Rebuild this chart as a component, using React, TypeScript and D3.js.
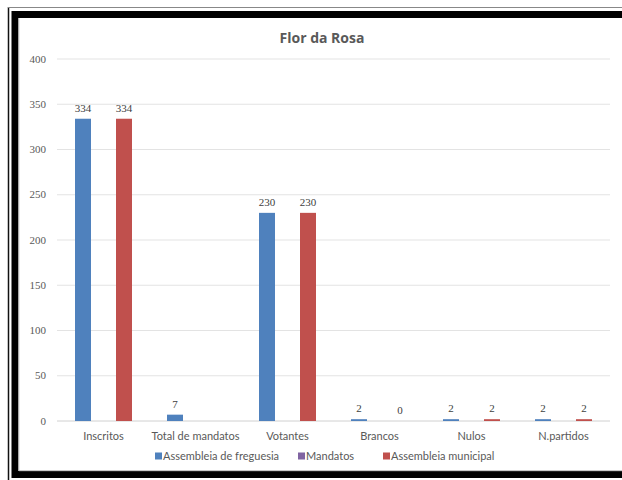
import React, { useEffect } from "react";
import * as d3 from "d3";

const categories = ["Inscritos", "Total de mandatos", "Votantes", "Brancos", "Nulos", "N.partidos"];
const seriesNames = ["Assembleia de freguesia", "Mandatos", "Assembleia municipal"];
const freguesia: (number | null)[] = [334, 7, 230, 2, 2, 2];
const mandatos: (number | null)[] = [null, null, null, null, null, null];
const municipal: (number | null)[] = [334, null, 230, 0, 2, 2];
const yTicks = [0, 50, 100, 150, 200, 250, 300, 350, 400];
const colors = ["#4F81BD", "#8064A2", "#C0504D"];

const W = 622;
const H = 480;

export default function App() {
  useEffect(() => {
    document.body.style.margin = "0";
  }, []);

  const values = [freguesia, mandatos, municipal];

  const x = d3.scaleBand<string>().domain(categories).range([57.5, 609.5]).padding(0);
  const inner = d3
    .scaleBand<string>()
    .domain(seriesNames)
    .range([0, x.bandwidth()])
    .paddingInner(0.22)
    .paddingOuter(0.854);
  const y = d3.scaleLinear().domain([0, 400]).range([421, 59]);

  const numFont = "'Liberation Serif', serif";
  const sansFont = "Lato, 'Open Sans', sans-serif";

  // legend layout
  const legendX = [155, 298, 383];

  return (
    <svg width={W} height={H} style={{ display: "block", background: "#fff" }}>
      {/* frame */}
      <line x1={8.5} x2={8.5} y1={7} y2={H} stroke="#111" strokeWidth={1.5} />
      <line x1={8} x2={W} y1={7.5} y2={7.5} stroke="#888" strokeWidth={1.2} />
      <rect x={15} y={14.5} width={W} height={460} fill="#fff" stroke="#000" strokeWidth={7} />
      <line x1={18.8} x2={18.8} y1={18} y2={471} stroke="#bbb" strokeWidth={1} />
      <line x1={19} x2={W} y1={470.7} y2={470.7} stroke="#bbb" strokeWidth={1} />

      {/* title */}
      <text x={322} y={43} textAnchor="middle" fontFamily="'Open Sans', sans-serif" fontWeight="bold" fontSize={14} fill="#595959">
        Flor da Rosa
      </text>

      {/* grid + y labels */}
      {yTicks.map((t) => (
        <g key={t}>
          <line x1={57} x2={610} y1={y(t)} y2={y(t)} stroke={t === 0 ? "#d0d0d0" : "#e3e3e3"} strokeWidth={1} />
          <text x={46} y={y(t) + 3.5} textAnchor="end" fontFamily={numFont} fontSize={11} fill="#595959">
            {t}
          </text>
        </g>
      ))}

      {/* bars */}
      {categories.map((c, i) => (
        <g key={c} transform={`translate(${x(c)},0)`}>
          {seriesNames.map((s, j) => {
            const v = values[j][i];
            if (v === null) return null;
            const bx = inner(s) || 0;
            return (
              <g key={s}>
                <rect x={bx} y={y(v)} width={inner.bandwidth()} height={y(0) - y(v)} fill={colors[j]} />
                <text
                  x={bx + inner.bandwidth() / 2}
                  y={y(v) - 7}
                  textAnchor="middle"
                  fontFamily={numFont}
                  fontSize={11}
                  fill="#404040"
                >
                  {v}
                </text>
              </g>
            );
          })}
          <text x={x.bandwidth() / 2} y={440} textAnchor="middle" fontFamily={sansFont} fontSize={11} fill="#595959">
            {c}
          </text>
        </g>
      ))}

      {/* legend */}
      {seriesNames.map((s, j) => (
        <g key={s}>
          <rect x={legendX[j]} y={452.5} width={7} height={7} fill={colors[j]} />
          <text x={legendX[j] + 8} y={460} fontFamily={sansFont} fontSize={11} fill="#595959">
            {s}
          </text>
        </g>
      ))}
    </svg>
  );
}
